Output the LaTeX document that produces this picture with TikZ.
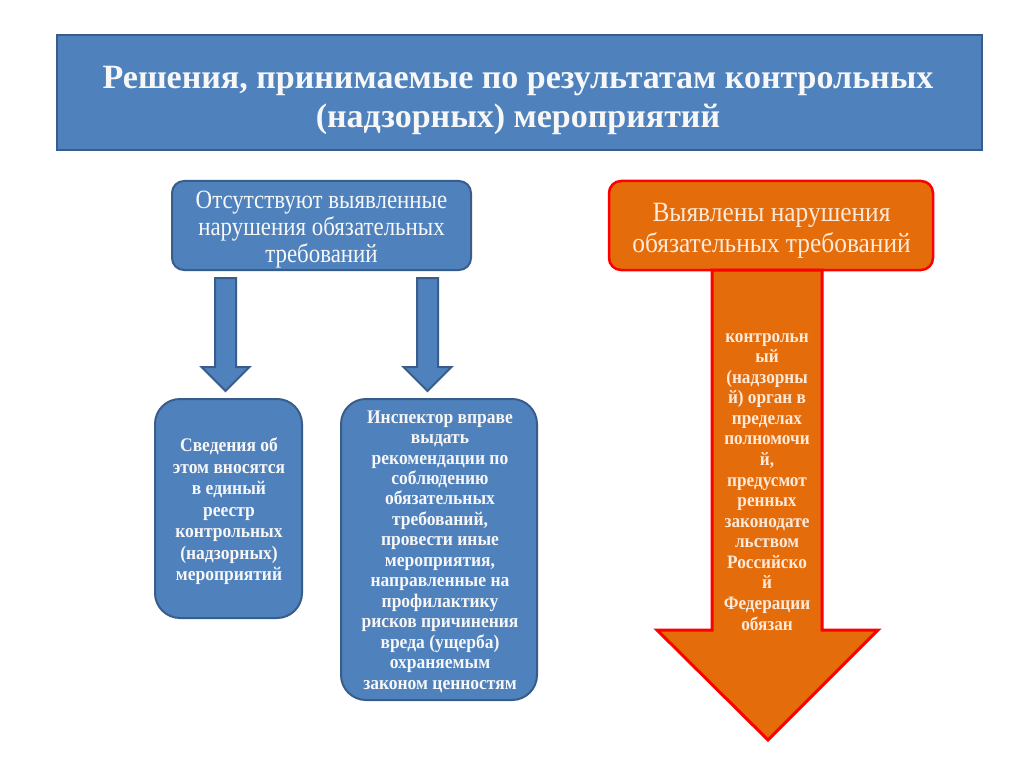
\documentclass[tikz,border=0pt]{standalone}
\usepackage{fontspec}
\usepackage{graphicx}
\setmainfont{Liberation Serif}
\definecolor{bfill}{HTML}{4F81BD}
\definecolor{bline}{HTML}{385D8A}
\definecolor{ofill}{HTML}{E46C0A}
\definecolor{oline}{HTML}{FF0000}
\definecolor{txtw}{HTML}{F7F7F7}
\definecolor{txto}{HTML}{FDEADA}
\newcommand{\mytxt}[2]{\scalebox{1}[#1]{\begin{tabular}{@{}c@{}}#2\end{tabular}}}
\tikzset{
  bluebox/.style={draw=bline, line width=2pt, fill=bfill, inner sep=0pt},
  orangebox/.style={draw=oline, line width=2.5pt, fill=ofill, inner sep=0pt},
  wtext/.style={text=txtw, inner sep=0pt},
  otext/.style={text=txto, inner sep=0pt},
  bluearrow/.style={draw=bline, line width=2pt, fill=bfill, line join=miter},
  orangearrow/.style={draw=oline, line width=3pt, fill=ofill, line join=miter},
}
\begin{document}
\begin{tikzpicture}[x=1pt,y=-1pt]
\useasboundingbox[fill=white] (0,0) rectangle (1024,767);
% title
\node[bluebox, minimum width=925pt, minimum height=115pt] (title) at (519.5,92.5) {};
\node[wtext, font=\bfseries\fontsize{34}{39}\selectfont] (titletxt) at (518,100)
  {\mytxt{1}{Решения, принимаемые по результатам контрольных\\(надзорных) мероприятий}};
% left header
\node[bluebox, rounded corners=12pt, minimum width=299pt, minimum height=89pt] (lhead) at (321.5,225.5) {};
\node[wtext, font=\fontsize{22.9}{23}\selectfont] (lheadtxt) at (321.5,230)
  {\mytxt{1.15}{Отсутствуют выявленные\\нарушения обязательных\\требований}};
% right header
\node[orangebox, rounded corners=12pt, minimum width=324pt, minimum height=89pt] (rhead) at (771,225.5) {};
\node[otext, font=\fontsize{25.4}{27.3}\selectfont] (rheadtxt) at (771.5,231)
  {\mytxt{1.1}{Выявлены нарушения\\обязательных требований}};
% blue arrows
\coordinate (a1) at (225.5,278);
\coordinate (a2) at (427.5,278);
\foreach \c in {a1, a2}{
  \draw[bluearrow] ([xshift=-10.5pt]\c) -- ([xshift=10.5pt]\c) -- ([xshift=10.5pt,yshift=-89pt]\c)
    -- ([xshift=24pt,yshift=-89pt]\c) -- ([yshift=-113pt]\c) -- ([xshift=-24pt,yshift=-89pt]\c)
    -- ([xshift=-10.5pt,yshift=-89pt]\c) -- cycle;
}
% bottom boxes
\node[bluebox, rounded corners=25pt, minimum width=147pt, minimum height=219pt] (box1) at (228.5,508.5) {};
\node[wtext, font=\bfseries\fontsize{17.5}{19.5}\selectfont] (box1txt) at (229,512)
  {\mytxt{1.1}{Сведения об\\этом вносятся\\в единый\\реестр\\контрольных\\(надзорных)\\мероприятий}};
\node[bluebox, rounded corners=25pt, minimum width=196pt, minimum height=301pt] (box2) at (439,549.5) {};
\node[wtext, font=\bfseries\fontsize{17.5}{18.6}\selectfont] (box2txt) at (440,552)
  {\mytxt{1.1}{Инспектор вправе\\выдать\\рекомендации по\\соблюдению\\обязательных\\требований,\\провести иные\\мероприятия,\\направленные на\\профилактику\\рисков причинения\\вреда (ущерба)\\охраняемым\\законом ценностям}};
% big orange arrow
\draw[orangearrow] (712,270) -- (822,270) -- (822,630) -- (878,630) -- (768,740) -- (657,630) -- (712,630) -- cycle;
\node[otext, font=\bfseries\fontsize{17.2}{18.7}\selectfont] (bigtxt) at (767,482)
  {\mytxt{1.1}{контрольн\\ый\\(надзорны\\й) орган в\\пределах\\полномочи\\й,\\предусмот\\ренных\\законодате\\льством\\Российско\\й\\Федерации\\обязан}};
\end{tikzpicture}
\end{document}
